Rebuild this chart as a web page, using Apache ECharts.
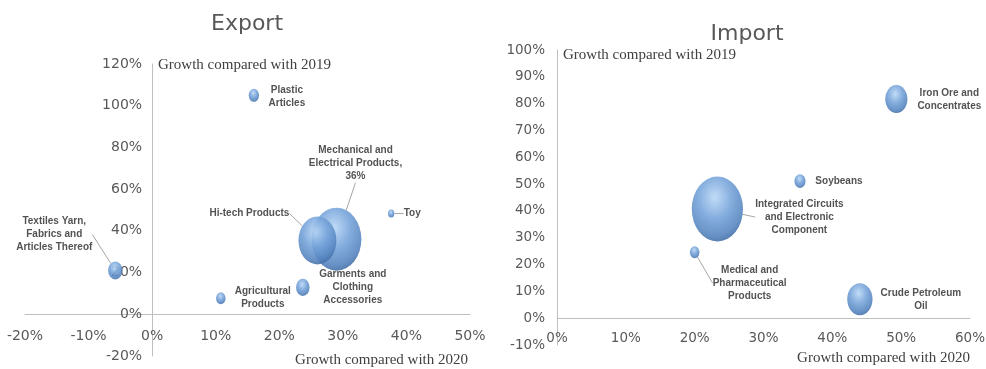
<!DOCTYPE html>
<html><head><meta charset="utf-8">
<script src="https://cdn.jsdelivr.net/npm/echarts@6/dist/echarts.min.js"></script>
<style>html,body{margin:0;padding:0;background:#fff}#c{width:986px;height:369px}</style>
</head><body><div id="c"></div>
<script>
// ---- Export data ----
const exportLabels = ['Plastic\nArticles', 'Mechanical and\nElectrical Products,\n36%', 'Hi-tech Products', 'Toy',
  'Textiles Yarn,\nFabrics and\nArticles Thereof', 'Agricultural\nProducts', 'Garments and\nClothing\nAccessories'];
const exportX = [16, 29, 26, 37.6, -5.8, 10.8, 23.7];        // growth vs 2020 (%)
const exportY = [105, 36, 35.4, 48.3, 21, 7.7, 12.9];         // growth vs 2019 (%)
const exportSize = [4.3, 100, 58, 1.6, 8.2, 3.6, 7.3];        // bubble magnitude

// ---- Import data ----
const importLabels = ['Iron Ore and\nConcentrates', 'Soybeans', 'Integrated Circuits\nand Electronic\nComponent',
  'Medical and\nPharmaceutical\nProducts', 'Crude Petroleum\nOil'];
const importX = [49.3, 35.3, 23.3, 20.0, 44.0];
const importY = [81.7, 51.1, 40.7, 24.6, 7.1];
const importSize = [19.8, 4.9, 106, 3.6, 25.8];

// tick labels
const exportXTicks = {min: -20, max: 50, step: 10};
const exportYTicks = {min: -20, max: 120, step: 20};
const importXTicks = {min: 0, max: 60, step: 10};
const importYTicks = {min: -10, max: 100, step: 10};

// label layout (offset of label centre from bubble centre, leader line)
const exportLabelLayout = [[33, 1, false], [19, -76, true], [-68, -27, true], [21, 0, true], [-61, -36, true], [42, 0, false], [50, 0, false]];
const importLabelLayout = [[53, 1, false], [39, 0, false], [82, 8, true], [55, 31, true], [61, 1, false]];

const W = 986, H = 369;
const grids = [
  {left: 25, right: 516, top: 64, bottom: 13},
  {left: 557, right: 16, top: 50, bottom: 24}
];

const axisFont = '"DejaVu Sans", sans-serif';
const nameFont = '"Liberation Serif", serif';
const labelFont = '"Liberation Sans", Arial, sans-serif';

function bubbleColor() {
  return new echarts.graphic.RadialGradient(0.45, 0.32, 0.72, [
    {offset: 0, color: '#b8d6f5'},
    {offset: 0.45, color: '#74a2d9'},
    {offset: 0.82, color: '#5382bd'},
    {offset: 1, color: '#3a659c'}
  ]);
}

function buildData(xs, ys, ss, labels, layout) {
  return xs.map((x, i) => ({
    value: [x, ys[i], ss[i]],
    name: labels[i],
    labelLine: {show: layout[i][2]}
  }));
}

function series(idx, xs, ys, ss, labels, layout) {
  return {
    type: 'scatter',
    xAxisIndex: idx, yAxisIndex: idx,
    data: buildData(xs, ys, ss, labels, layout),
    symbol: 'circle',
    symbolSize: v => { const d = 6.3 * Math.sqrt(v[2]); return [d * 0.79, d]; },
    itemStyle: {color: bubbleColor(), opacity: 0.88},
    label: {
      show: true,
      formatter: p => p.name,
      fontFamily: labelFont, fontWeight: 'bold', fontSize: 10, lineHeight: 13,
      color: '#3a3a3a', align: 'center'
    },
    labelLine: {show: true, lineStyle: {color: '#a6a6a6', width: 1}},
    labelLayout: p => {
      const o = layout[p.dataIndex];
      return {
        x: p.rect.x + p.rect.width / 2 + o[0],
        y: p.rect.y + p.rect.height / 2 + o[1],
        align: 'center', verticalAlign: 'middle'
      };
    },
    emphasis: {disabled: true}
  };
}

// place the axis through the other axis' zero value
function zeroOffset(t, span) { return -((0 - t.min) / (t.max - t.min)) * span; }

function xAxis(idx, t, ty, fs, margin) {
  const g = grids[idx];
  const h = H - g.top - g.bottom;
  return {
    gridIndex: idx, type: 'value', min: t.min, max: t.max, interval: t.step,
    position: 'bottom', offset: zeroOffset(ty, h),
    axisLine: {onZero: false, lineStyle: {color: '#bfbfbf'}},
    axisTick: {show: false}, splitLine: {show: false},
    axisLabel: {formatter: '{value}%', color: '#595959', fontSize: fs, fontFamily: axisFont, margin: margin}
  };
}
function yAxis(idx, t, tx, fs, margin) {
  const g = grids[idx];
  const w = W - g.left - g.right;
  return {
    gridIndex: idx, type: 'value', min: t.min, max: t.max, interval: t.step,
    position: 'left', offset: zeroOffset(tx, w),
    axisLine: {onZero: false, lineStyle: {color: '#bfbfbf'}},
    axisTick: {show: false}, splitLine: {show: false},
    axisLabel: {formatter: '{value}%', color: '#595959', fontSize: fs, fontFamily: axisFont, margin: margin}
  };
}

const chart = echarts.init(document.getElementById('c'));
chart.setOption({
  animation: false,
  grid: grids.map(g => Object.assign({containLabel: false, outerBoundsMode: 'none'}, g)),
  xAxis: [xAxis(0, exportXTicks, exportYTicks, 14, 15), xAxis(1, importXTicks, importYTicks, 13.5, 13)],
  yAxis: [yAxis(0, exportYTicks, exportXTicks, 14, 10), yAxis(1, importYTicks, importXTicks, 13.5, 12)],
  series: [
    series(0, exportX, exportY, exportSize, exportLabels, exportLabelLayout),
    series(1, importX, importY, importSize, importLabels, importLabelLayout)
  ],
  graphic: [
    {type: 'text', x: 247, y: 24, style: {text: 'Export', fill: '#595959', font: '22px ' + axisFont, textAlign: 'center', textVerticalAlign: 'middle'}},
    {type: 'text', x: 747, y: 34, style: {text: 'Import', fill: '#595959', font: '22px ' + axisFont, textAlign: 'center', textVerticalAlign: 'middle'}},
    {type: 'text', x: 158, y: 65, style: {text: 'Growth compared with 2019', fill: '#404040', font: '15px ' + nameFont, textAlign: 'left', textVerticalAlign: 'middle'}},
    {type: 'text', x: 468, y: 360, style: {text: 'Growth compared with 2020', fill: '#404040', font: '15px ' + nameFont, textAlign: 'right', textVerticalAlign: 'middle'}},
    {type: 'text', x: 563, y: 55, style: {text: 'Growth compared with 2019', fill: '#404040', font: '15px ' + nameFont, textAlign: 'left', textVerticalAlign: 'middle'}},
    {type: 'text', x: 970, y: 358, style: {text: 'Growth compared with 2020', fill: '#404040', font: '15px ' + nameFont, textAlign: 'right', textVerticalAlign: 'middle'}}
  ]
});
</script></body></html>
